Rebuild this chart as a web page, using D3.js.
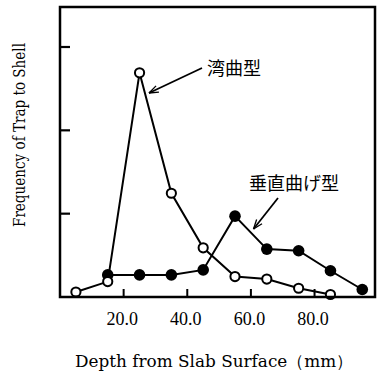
<!DOCTYPE html>
<html>
<head>
<meta charset="utf-8">
<script src="https://cdn.jsdelivr.net/npm/d3@7"></script>
<style>
  body { margin: 0; background: #fff; }
  text { fill: #000; }
</style>
</head>
<body>
<div id="chart"></div>
<script>
// depth (mm) of each sample
const depthCurved = [5, 15, 25, 35, 45, 55, 65, 75, 85];
const freqCurved = [0.6, 1.85, 26.9, 12.45, 5.9, 2.45, 2.15, 1.05, 0.3];
const depthVertical = [15, 25, 35, 45, 55, 65, 75, 85, 95];
const freqVertical = [2.65, 2.65, 2.65, 3.25, 9.7, 5.75, 5.55, 3.15, 0.9];
const xTicks = [20, 40, 60, 80];
const yTicks = [10, 20, 30];
const seriesNames = ["湾曲型", "垂直曲げ型"];

const W = 380, H = 371;
const plotL = 60, plotR = 375, plotT = 7, plotB = 297;

const svg = d3.select("#chart")
  .append("svg")
  .attr("width", W)
  .attr("height", H);

const x = d3.scaleLinear().domain([0, 99]).range([plotL, plotR]);
const y = d3.scaleLinear().domain([0, 34.8]).range([plotB, plotT]);

// ticks pointing inward, no y labels
svg.append("g")
  .selectAll("line")
  .data(yTicks)
  .join("line")
  .attr("x1", plotL).attr("x2", plotL + 10)
  .attr("y1", d => y(d)).attr("y2", d => y(d))
  .attr("stroke", "#000").attr("stroke-width", 2.2);

svg.append("g")
  .selectAll("line")
  .data(xTicks)
  .join("line")
  .attr("x1", d => x(d)).attr("x2", d => x(d))
  .attr("y1", plotB).attr("y2", plotB - 8)
  .attr("stroke", "#000").attr("stroke-width", 2);

svg.append("g")
  .selectAll("text")
  .data(xTicks)
  .join("text")
  .attr("x", d => x(d) - 1.5)
  .attr("y", plotB + 28)
  .attr("text-anchor", "middle")
  .style("font-family", "Liberation Serif")
  .style("font-size", "18px")
  .text(d => d.toFixed(1));

const line = d3.line()
  .x(d => x(d[0]))
  .y(d => y(d[1]));

const curved = d3.zip(depthCurved, freqCurved);
const vertical = d3.zip(depthVertical, freqVertical);

svg.append("path")
  .datum(curved)
  .attr("fill", "none")
  .attr("stroke", "#000")
  .attr("stroke-width", 2)
  .attr("d", line);

svg.append("path")
  .datum(vertical)
  .attr("fill", "none")
  .attr("stroke", "#000")
  .attr("stroke-width", 2)
  .attr("d", line);

svg.append("g")
  .selectAll("circle")
  .data(vertical)
  .join("circle")
  .attr("cx", d => x(d[0]))
  .attr("cy", d => y(d[1]))
  .attr("r", 5.8)
  .attr("fill", "#000");

svg.append("g")
  .selectAll("circle")
  .data(curved)
  .join("circle")
  .attr("cx", d => x(d[0]))
  .attr("cy", d => y(d[1]))
  .attr("r", 4.6)
  .attr("fill", "#fff")
  .attr("stroke", "#000")
  .attr("stroke-width", 2);

// frame
svg.append("path")
  .attr("d", `M${plotL},${plotT}H${plotR}V${plotB}H${plotL}Z`)
  .attr("fill", "none")
  .attr("stroke", "#000")
  .attr("stroke-width", 2.5);

// callouts
const callout = (x1, y1, x2, y2) => {
  svg.append("line")
    .attr("x1", x1).attr("y1", y1).attr("x2", x2).attr("y2", y2)
    .attr("stroke", "#000").attr("stroke-width", 1.8);
  const a = Math.atan2(y1 - y2, x1 - x2);
  [0.35, -0.35].forEach(s => {
    svg.append("line")
      .attr("x1", x2).attr("y1", y2)
      .attr("x2", x2 + 10 * Math.cos(a + s))
      .attr("y2", y2 + 10 * Math.sin(a + s))
      .attr("stroke", "#000").attr("stroke-width", 1.3);
  });
};
callout(202, 68, 149, 93);
callout(278, 198, 253.5, 229);

svg.append("text")
  .attr("x", 207).attr("y", 75)
  .style("font-family", "Noto Sans CJK JP")
  .style("font-size", "18px")
  .text(seriesNames[0]);

svg.append("text")
  .attr("x", 249).attr("y", 190)
  .style("font-family", "Noto Sans CJK JP")
  .style("font-size", "18px")
  .text(seriesNames[1]);

// axis titles
svg.append("text")
  .attr("x", 75).attr("y", 367)
  .attr("textLength", 278)
  .attr("lengthAdjust", "spacingAndGlyphs")
  .style("font-family", "DejaVu Serif")
  .style("font-size", "17px")
  .text("Depth from Slab Surface（mm）");

svg.append("text")
  .attr("transform", "translate(25,227) rotate(-90)")
  .attr("textLength", 184)
  .attr("lengthAdjust", "spacingAndGlyphs")
  .style("font-family", "DejaVu Serif")
  .style("font-size", "16px")
  .text("Frequency of Trap to Shell");
</script>
</body>
</html>
